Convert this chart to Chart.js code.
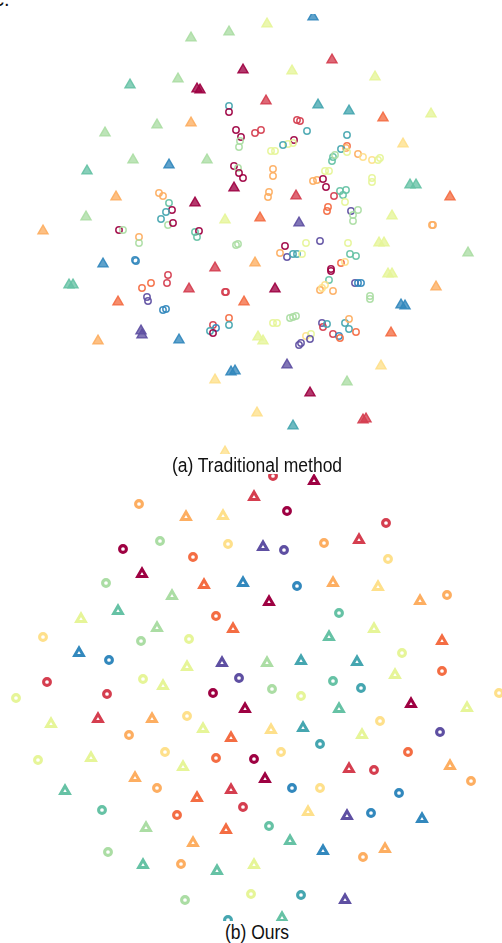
<!DOCTYPE html>
<html>
<head>
<meta charset="utf-8">
<script src="https://cdn.jsdelivr.net/npm/chart.js@4.4.1/dist/chart.umd.min.js"></script>
<style>
  html, body { margin: 0; padding: 0; background: #fff; }
  body { position: relative; width: 502px; height: 943px; overflow: hidden; }
  canvas { position: absolute; left: 0; }
  #embA { top: 14px; }
  #embB { top: 474px; }
  .cap {
    position: absolute; left: 0; width: 514px; text-align: center;
    font-family: "Liberation Sans", Arial, sans-serif; font-size: 20px; color: #111;
    transform: scaleX(0.875); transform-origin: 257px 0; white-space: nowrap; z-index: 2;
  }
  #corner { position: absolute; left: -6px; top: -12px; font: 20px "Liberation Sans", Arial, sans-serif; color: #111; }
</style>
</head>
<body>
<div id="corner">c.</div>
<canvas id="embA" width="502" height="440"></canvas>
<div class="cap" style="top:454px">(a) Traditional method</div>
<canvas id="embB" width="502" height="447"></canvas>
<div class="cap" style="top:921px">(b) Ours</div>

<script>
// class colours (Spectral)
const classColors = ['#9e0142', '#d53e4f', '#f46d43', '#fdae61', '#fee08b', '#e6f598',
                     '#abdda4', '#66c2a5', '#45a6b0', '#3288bd', '#5e4fa2'];

// (a) embedding: [x, y, class]
const tradTri = [
  [313,17,9],[267,24,5],[229,32,6],[191,38,6],[243,70,0],[332,60,1],[292,71,5],[375,77,5],
  [130,85,7],[178,79,6],[197,89,0],[200,90,0],[266,101,1],[318,105,8],[349,111,8],[383,118,2],
  [431,114,5],[157,125,6],[191,123,3],[105,133,6],[403,144,4],[410,185,7],[416,185,7],[450,197,2],
  [133,160,6],[169,165,9],[207,160,6],[87,171,7],[234,188,0],[296,196,1],[116,197,3],[195,203,0],
  [392,216,5],[225,220,5],[260,218,2],[299,223,10],[86,217,6],[43,231,3],[379,243,5],[384,243,5],
  [468,253,6],[103,264,9],[215,268,1],[255,263,3],[388,274,5],[392,274,5],[69,285,7],[73,285,7],
  [189,289,1],[275,289,0],[436,287,3],[118,302,2],[244,302,2],[401,305,9],[405,306,9],[391,333,2],
  [98,341,3],[141,331,10],[142,335,10],[179,340,9],[258,337,5],[263,341,5],[287,365,10],[231,372,9],
  [235,371,9],[215,380,4],[347,382,6],[381,366,4],[310,393,0],[257,413,4],[293,426,8],[363,420,1],
  [366,419,1],[225,452,4]
];
const tradRing = [
  [229,106,8],[229,112,0],[297,120,1],[300,121,1],[236,130,0],[241,137,0],[240,141,6],[239,147,6],
  [255,133,1],[261,130,1],[307,131,8],[294,140,0],[293,143,5],[288,144,5],[283,145,8],[271,151,5],
  [275,151,5],[347,135,8],[347,146,2],[346,148,3],[341,149,8],[347,152,5],[358,154,3],[363,157,4],
  [372,160,4],[378,160,5],[380,158,5],[333,157,7],[332,161,7],[335,155,6],[372,178,5],[372,182,5],
  [234,166,0],[238,168,6],[239,173,0],[243,178,0],[273,169,3],[273,176,3],[325,171,5],[329,171,5],
  [313,181,3],[317,180,3],[323,179,0],[326,187,0],[340,191,7],[346,190,7],[343,195,7],[334,196,1],
  [345,202,5],[269,192,3],[268,197,3],[159,193,3],[163,196,3],[169,203,7],[172,210,0],[166,212,8],
  [161,219,8],[168,225,6],[173,223,0],[328,207,2],[327,211,2],[351,211,10],[358,210,6],[353,215,6],
  [353,221,6],[432,225,3],[433,225,3],[119,230,0],[123,230,6],[139,237,3],[139,243,6],[195,232,7],
  [199,231,0],[197,237,7],[320,241,10],[236,245,6],[238,244,6],[285,246,0],[280,253,3],[287,257,10],
  [293,254,8],[297,254,8],[302,254,5],[306,243,5],[348,243,5],[350,254,7],[356,256,7],[341,263,2],
  [345,262,4],[135,260,9],[136,261,9],[331,269,0],[331,271,0],[142,288,2],[151,283,2],[168,275,1],
  [167,283,1],[225,292,1],[226,292,1],[329,280,7],[325,285,4],[320,290,3],[333,291,3],[322,288,4],
  [355,283,10],[358,283,9],[361,283,9],[370,296,6],[370,299,6],[147,297,10],[148,301,10],[163,310,9],
  [166,309,9],[229,318,2],[229,325,8],[213,325,1],[216,328,9],[210,331,8],[213,333,0],[273,323,5],
  [277,323,5],[290,318,6],[293,317,6],[296,316,6],[322,323,10],[323,327,1],[327,324,8],[345,323,8],
  [349,319,3],[349,329,8],[356,332,2],[333,334,1],[339,336,9],[340,338,2],[306,336,4],[311,334,5],
  [310,339,10],[299,345,10],[301,343,10]
];

// (b) embedding: [x, y, class]
const oursTri = [
  [314,481,0],[254,497,1],[186,517,3],[223,516,4],[263,547,10],[359,540,1],[142,574,0],[204,585,2],
  [243,583,9],[333,583,3],[378,587,4],[420,601,3],[172,596,6],[269,602,0],[118,611,7],[81,619,5],
  [157,628,6],[233,629,2],[329,637,7],[374,629,5],[442,641,2],[79,653,9],[187,667,5],[222,663,10],
  [267,663,6],[301,661,8],[357,662,8],[395,675,5],[163,686,5],[245,709,0],[339,709,7],[411,704,0],
  [467,708,5],[51,724,5],[98,719,1],[152,719,3],[203,729,5],[271,730,4],[303,728,8],[362,735,5],
  [231,738,2],[91,758,5],[183,767,5],[450,766,3],[349,769,1],[135,778,3],[265,779,0],[65,791,7],
  [197,798,2],[231,790,1],[308,812,4],[347,816,10],[422,819,9],[146,828,6],[226,830,2],[193,843,3],
  [290,841,7],[323,851,9],[385,849,3],[143,865,7],[217,871,7],[254,865,5],[345,900,10],[282,918,7]
];
const oursRing = [
  [273,476,1],[139,504,3],[287,511,0],[386,523,1],[160,541,6],[123,549,0],[228,544,4],[284,550,10],
  [324,543,3],[193,557,2],[388,559,4],[106,583,6],[297,586,9],[447,595,3],[216,616,2],[339,613,7],
  [43,637,4],[141,641,6],[189,639,5],[402,653,5],[109,660,9],[442,671,2],[47,682,1],[143,679,5],
  [239,678,10],[333,681,7],[361,688,8],[16,698,5],[107,694,1],[213,693,0],[272,689,6],[301,696,5],
  [499,693,4],[187,716,4],[129,735,3],[380,721,4],[440,732,10],[320,744,8],[38,760,5],[165,752,4],
  [216,758,2],[254,759,0],[281,752,4],[408,752,2],[374,770,1],[471,781,3],[157,788,3],[292,788,9],
  [320,788,4],[399,793,9],[102,810,7],[177,815,2],[243,807,1],[371,813,9],[269,826,7],[108,852,6],
  [363,857,3],[181,864,3],[185,900,6],[251,894,5],[301,895,8],[228,920,8]
];

function toPoints(list) {
  return list.map(p => ({ x: p[0], y: p[1], c: p[2] }));
}
function fade(hex, a) {
  const n = parseInt(hex.slice(1), 16);
  return `rgba(${n >> 16},${(n >> 8) & 255},${n & 255},${a})`;
}

function drawPanel(id, tri, ring, yMin, yMax, look) {
  new Chart(document.getElementById(id), {
    type: 'scatter',
    data: {
      datasets: [
        {
          data: toPoints(ring),
          pointStyle: 'circle',
          pointRadius: look.ringR,
          pointBorderWidth: look.ringW,
          pointBackgroundColor: 'rgba(0,0,0,0)',
          pointBorderColor: ctx => fade(classColors[ctx.raw.c], look.alpha)
        },
        {
          data: toPoints(tri),
          pointStyle: 'triangle',
          pointRadius: look.triR,
          pointBorderWidth: look.triW,
          pointBackgroundColor: ctx => look.triFill ? fade(classColors[ctx.raw.c], look.alpha * 0.85) : '#fff',
          pointBorderColor: ctx => fade(classColors[ctx.raw.c], look.alpha)
        }
      ]
    },
    options: {
      responsive: false,
      animation: false,
      devicePixelRatio: 1,
      layout: { padding: 0, autoPadding: false },
      plugins: { legend: { display: false }, tooltip: { enabled: false } },
      scales: {
        x: { type: 'linear', min: 0, max: 502, display: false },
        y: { type: 'linear', min: yMin, max: yMax, reverse: true, display: false }
      }
    }
  });
}

drawPanel('embA', tradTri, tradRing, 14, 454,
  { ringR: 3.2, ringW: 1.5, triR: 5.8, triW: 1.4, triFill: true, alpha: 0.92 });
drawPanel('embB', oursTri, oursRing, 474, 921,
  { ringR: 3.4, ringW: 3.1, triR: 5, triW: 3, triFill: false, alpha: 1 });
</script>
</body>
</html>
